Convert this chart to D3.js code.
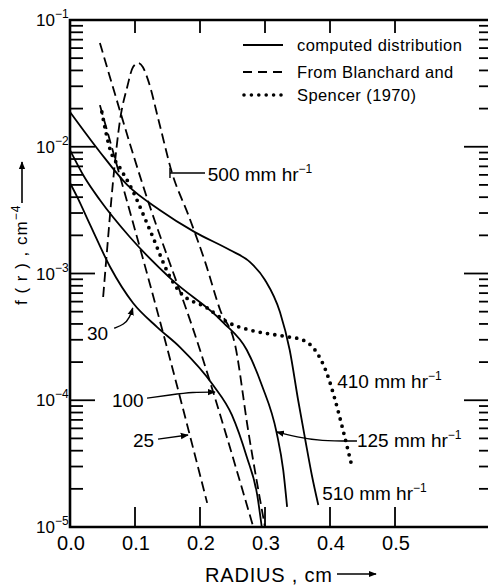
<!DOCTYPE html>
<html>
<head>
<meta charset="utf-8">
<style>
  body { margin: 0; background: #fff; }
  svg { display: block; font-family: 'Liberation Sans', Arial, sans-serif; }
</style>
</head>
<body>
<svg id="chart" width="488" height="585"></svg>
<script src="https://cdn.jsdelivr.net/npm/d3@7"></script>
<script>
/* global d3 */

//---------data: r in cm, f(r) in cm^-4---------//
// computed distributions (solid)
const comp510R = [0, 0.046, 0.088, 0.138, 0.192, 0.246, 0.277, 0.300, 0.323, 0.338, 0.351, 0.362, 0.372, 0.382]
const comp510F = [1.88e-2, 9.1e-3, 5.0e-3, 3.17e-3, 2.12e-3, 1.53e-3, 1.23e-3, 8.9e-4, 4.97e-4, 2.49e-4, 1.0e-4, 4.86e-5, 2.57e-5, 1.49e-5]

const comp125R = [0, 0.023, 0.046, 0.092, 0.157, 0.235, 0.272, 0.295, 0.318, 0.328, 0.334]
const comp125F = [9.4e-3, 5.66e-3, 3.8e-3, 1.94e-3, 8.9e-4, 4.14e-4, 2.49e-4, 1.32e-4, 5.52e-5, 2.82e-5, 1.44e-5]

const comp30R = [0, 0.011, 0.031, 0.062, 0.097, 0.134, 0.169, 0.220, 0.249, 0.272, 0.288, 0.295]
const comp30F = [5.18e-3, 4.02e-3, 2.42e-3, 1.12e-3, 5.85e-4, 3.78e-4, 2.63e-4, 1.32e-4, 7.66e-5, 3.56e-5, 1.79e-5, 1.0e-5]

// Blanchard and Spencer (1970) (dashed)
const bs25R = [0.046, 0.149, 0.211]
const bs25F = [2.13e-2, 2.63e-4, 1.55e-5]

const bsMidR = [0.046, 0.111, 0.200, 0.282]
const bsMidF = [6.59e-2, 5.18e-3, 2.49e-4, 1.0e-5]

const bs500R = [0.051, 0.057, 0.066, 0.077, 0.088, 0.097, 0.105, 0.112, 0.120, 0.138, 0.157, 0.182, 0.208, 0.231, 0.254, 0.274, 0.300]
const bs500F = [6.53e-4, 1.53e-3, 5.18e-3, 1.63e-2, 2.96e-2, 4.26e-2, 4.58e-2, 4.26e-2, 3.37e-2, 1.49e-2, 6.21e-3, 2.90e-3, 1.23e-3, 5.15e-4, 2.73e-4, 5.82e-5, 1.0e-5]

// 410 mm/hr (dotted)
const bs410R = [0.049, 0.062, 0.077, 0.092, 0.123, 0.154, 0.169, 0.211, 0.242, 0.277, 0.308, 0.338, 0.358, 0.377, 0.395, 0.408, 0.420, 0.434]
const bs410F = [1.88e-2, 9.42e-3, 6.79e-3, 4.99e-3, 2.20e-3, 9.38e-4, 7.14e-4, 5.35e-4, 4.14e-4, 3.58e-4, 3.33e-4, 3.15e-4, 2.99e-4, 2.49e-4, 1.64e-4, 1.00e-4, 5.82e-5, 2.97e-5]

// axis ticks
const xTicks = [0.1, 0.2, 0.3, 0.4, 0.5]
const xLabels = [0, 0.1, 0.2, 0.3, 0.4, 0.5]
const yMajors = [1e-1, 1e-2, 1e-3, 1e-4, 1e-5]
const yExponents = ['−1', '−2', '−3', '−4', '−5']

// legend
const legendText = ['computed distribution', 'From Blanchard and', 'Spencer (1970)']

// curve labels, anchored in data units (r, f)
const labelText = ['500 mm hr', '410 mm hr', '125 mm hr', '510 mm hr', '30', '100', '25']
const labelSup = ['−1', '−1', '−1', '−1', '', '', '']
const labelR = [0.212, 0.411, 0.4415, 0.388, 0.026, 0.0646, 0.0969]
const labelF = [5.37e-3, 1.25e-4, 4.28e-5, 1.63e-5, 2.99e-4, 8.85e-5, 4.28e-5]

// leader lines / arrows (data units)
const arrow125 = [[0.4415, 4.77e-5], [0.385, 4.77e-5], [0.349, 5.13e-5], [0.318, 5.62e-5]]
const arrow30 = [[0.068, 3.70e-4], [0.083, 3.95e-4], [0.092, 4.5e-4], [0.0965, 5.35e-4]]
const arrow100 = [[0.1185, 1.04e-4], [0.1538, 1.10e-4], [0.1892, 1.16e-4], [0.2231, 1.16e-4]]
const arrow25 = [[0.1354, 4.94e-5], [0.1815, 5.32e-5]]
const leader500 = [[0.2077, 6.21e-3], [0.1538, 6.21e-3]]

//---------scales---------//
const svg = d3.select('#chart')
const plotLeft = 70, plotRight = 489, plotTop = 20, plotBottom = 527
const x = d3.scaleLinear().domain([0, 0.6446]).range([plotLeft, plotRight])
const y = d3.scaleLog().domain([1e-5, 1e-1]).range([plotBottom, plotTop])

const zip = (rs, fs) => rs.map((r, i) => [r, fs[i]])
const curveLine = d3.line().x(d => x(d[0])).y(d => y(d[1])).curve(d3.curveMonotoneX)
const smooth = d3.line().x(d => x(d[0])).y(d => y(d[1])).curve(d3.curveBasis)

svg.append('defs').append('marker')
  .attr('id', 'head')
  .attr('viewBox', '0 0 10 10')
  .attr('refX', 9).attr('refY', 5)
  .attr('markerWidth', 8).attr('markerHeight', 8)
  .attr('markerUnits', 'userSpaceOnUse')
  .attr('orient', 'auto')
  .append('path').attr('d', 'M0,1 L10,5 L0,9 Z').attr('fill', '#000')

// x tick labels
svg.append('g').selectAll('text').data(xLabels).join('text')
  .attr('x', d => x(d) + 1).attr('y', plotBottom + 23)
  .attr('text-anchor', 'middle').attr('font-size', 20)
  .text(d3.format('.1f'))

// y tick labels with superscript exponent
const yl = svg.append('g').selectAll('text').data(yMajors).join('text')
  .attr('x', 36).attr('y', d => y(d) + 6)
  .attr('font-size', 17)
yl.append('tspan').text('10')
yl.append('tspan').attr('dy', -8).attr('font-size', 12).text((d, i) => yExponents[i])

//---------curves---------//
const solidStyle = p => p.attr('fill', 'none').attr('stroke', '#000').attr('stroke-width', 1.8)
const dashStyle = p => solidStyle(p).attr('stroke-dasharray', '10,5')

svg.append('path').datum(zip(comp510R, comp510F)).attr('d', curveLine).call(solidStyle)
svg.append('path').datum(zip(comp125R, comp125F)).attr('d', curveLine).call(solidStyle)
svg.append('path').datum(zip(comp30R, comp30F)).attr('d', curveLine).call(solidStyle)

svg.append('path').datum(zip(bs25R, bs25F)).attr('d', curveLine).call(dashStyle)
svg.append('path').datum(zip(bsMidR, bsMidF)).attr('d', curveLine).call(dashStyle)
svg.append('path').datum(zip(bs500R, bs500F)).attr('d', curveLine).call(dashStyle)

svg.append('path').datum(zip(bs410R, bs410F)).attr('d', curveLine)
  .attr('fill', 'none').attr('stroke', '#000').attr('stroke-width', 3.8)
  .attr('stroke-linecap', 'round').attr('stroke-dasharray', '0,7.4')

//---------labels + arrows---------//
const lab = svg.append('g').selectAll('text').data(labelText).join('text')
  .attr('x', (d, i) => x(labelR[i]))
  .attr('y', (d, i) => y(labelF[i]))
  .attr('font-size', 19)
lab.append('tspan').text(d => d)
lab.append('tspan').attr('dy', -8).attr('font-size', 12).text((d, i) => labelSup[i])

const arrowStyle = p => p.attr('fill', 'none').attr('stroke', '#000').attr('stroke-width', 1.4)
for (const a of [arrow125, arrow30, arrow100, arrow25]) {
  svg.append('path').datum(a).attr('d', smooth).call(arrowStyle).attr('marker-end', 'url(#head)')
}
svg.append('path').datum(leader500).attr('d', curveLine).call(arrowStyle)
svg.append('line')
  .attr('x1', x(leader500[1][0])).attr('x2', x(leader500[1][0]))
  .attr('y1', y(leader500[1][1]) - 5).attr('y2', y(leader500[1][1]) + 5)
  .attr('stroke', '#000').attr('stroke-width', 1.4)

//---------legend---------//
const lg = svg.append('g').attr('transform', 'translate(243,0)')
lg.append('line').attr('x1', 0).attr('x2', 40).attr('y1', 45).attr('y2', 45).call(solidStyle)
lg.append('line').attr('x1', 0).attr('x2', 40).attr('y1', 72).attr('y2', 72).call(solidStyle)
  .attr('stroke-dasharray', '9,6')
lg.append('line').attr('x1', 1).attr('x2', 40).attr('y1', 95).attr('y2', 95)
  .attr('stroke', '#000').attr('stroke-width', 3.6).attr('stroke-linecap', 'round')
  .attr('stroke-dasharray', '0,7.4')
lg.selectAll('text').data(legendText).join('text')
  .attr('x', 54).attr('y', (d, i) => [51, 78, 101][i])
  .attr('font-size', 16.5).attr('letter-spacing', 0.4)
  .text(d => d)

//---------axis titles---------//
svg.append('text')
  .attr('x', 205).attr('y', 582)
  .attr('font-size', 20)
  .attr('textLength', 127).attr('lengthAdjust', 'spacing')
  .text('RADIUS , cm')
svg.append('line').attr('x1', 337).attr('x2', 376).attr('y1', 574).attr('y2', 574)
  .attr('stroke', '#000').attr('stroke-width', 1.6).attr('marker-end', 'url(#head)')

const yt = svg.append('text')
  .attr('transform', 'translate(27,305) rotate(-90)')
  .attr('font-size', 17).attr('letter-spacing', 1)
yt.append('tspan').text('f ( r ) , cm')
yt.append('tspan').attr('dy', -7).attr('font-size', 12).text('−4')
svg.append('line').attr('x1', 22).attr('x2', 22).attr('y1', 203).attr('y2', 162)
  .attr('stroke', '#000').attr('stroke-width', 1.6).attr('marker-end', 'url(#head)')

//---------frame---------//
svg.append('path')
  .attr('d', `M${plotRight},${plotTop} H${plotLeft} V${plotBottom} H${plotRight}`)
  .attr('fill', 'none').attr('stroke', '#000').attr('stroke-width', 2.6)

//---------ticks, placed through the scales---------//
const minors = []
for (let e = -5; e < -1; e++) {
  for (let k = 2; k <= 9; k++) minors.push(k * Math.pow(10, e))
}

// y ticks: [value, length] on the left (pointing right) and right (pointing left)
const yTickList = minors.map(v => [v, 13, 10]).concat(yMajors.map(v => [v, 25, 25]))
const tk = svg.append('g').attr('stroke', '#000').attr('stroke-width', 1.8)
tk.selectAll('line.yl').data(yTickList).join('line').attr('class', 'yl')
  .attr('x1', plotLeft).attr('x2', d => plotLeft + d[1])
  .attr('y1', d => y(d[0])).attr('y2', d => y(d[0]))
tk.selectAll('line.yr').data(yTickList).join('line').attr('class', 'yr')
  .attr('x1', plotRight).attr('x2', d => plotRight - d[2])
  .attr('y1', d => y(d[0])).attr('y2', d => y(d[0]))
tk.selectAll('line.xt').data(xTicks).join('line').attr('class', 'xt')
  .attr('x1', d => x(d)).attr('x2', d => x(d))
  .attr('y1', plotTop).attr('y2', plotTop + 13)
tk.selectAll('line.xb').data(xTicks).join('line').attr('class', 'xb')
  .attr('x1', d => x(d)).attr('x2', d => x(d))
  .attr('y1', plotBottom).attr('y2', plotBottom - 20)
</script>
</body>
</html>
